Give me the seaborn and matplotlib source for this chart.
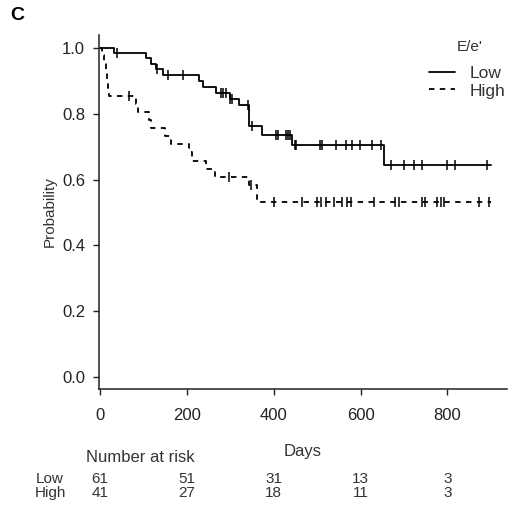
import numpy as np
import pandas as pd
import seaborn as sns
import matplotlib
matplotlib.use("Agg")
import matplotlib.pyplot as plt

# Curvas Kaplan-Meier (tiempo en dias, probabilidad)
low_days = [0, 33, 106, 118, 130, 145, 228, 238, 267, 300, 320, 343, 374, 443, 655, 900]
low_prob = [1.0, 0.984, 0.967, 0.951, 0.934, 0.916, 0.898, 0.881, 0.862, 0.844, 0.827,
            0.761, 0.736, 0.706, 0.645, 0.645]
low_censor = [40, 132, 156, 192, 278, 284, 290, 300, 305, 340, 351, 405, 410, 428, 432,
              437, 448, 452, 506, 512, 543, 566, 581, 598, 627, 646, 669, 700, 723, 742,
              799, 818, 891]

high_days = [0, 5, 9, 13, 16, 19, 22, 84, 88, 113, 118, 150, 163, 205, 212, 245, 265,
             343, 362, 900]
high_prob = [1.0, 0.976, 0.951, 0.927, 0.902, 0.878, 0.853, 0.829, 0.805, 0.780, 0.756,
             0.731, 0.707, 0.682, 0.657, 0.633, 0.608, 0.583, 0.532, 0.532]
high_censor = [67, 297, 347, 400, 466, 500, 508, 520, 538, 558, 569, 577, 631, 680, 688,
               742, 749, 776, 784, 791, 872, 895]

# Tabla de numero en riesgo
risk_days = [0, 200, 400, 600, 800]
risk_low = [61, 51, 31, 13, 3]
risk_high = [41, 27, 18, 11, 3]

sns.set_style("ticks")
plt.rcParams['font.family'] = ['Liberation Sans', 'DejaVu Sans']
plt.rcParams['text.color'] = '#333333'
plt.rcParams['axes.labelcolor'] = '#333333'
plt.rcParams['xtick.color'] = '#222222'
plt.rcParams['ytick.color'] = '#222222'

fig = plt.figure(figsize=(5.2, 5.09), dpi=100)
ax = fig.add_axes([99 / 520, 1 - 389 / 509, 408 / 520, 354 / 509])


def valor_en(dias, probs, t):
    """Probabilidad de la curva escalonada en el tiempo t."""
    idx = np.searchsorted(dias, t, side='right') - 1
    return np.asarray(probs)[idx]


df_low = pd.DataFrame({'dias': low_days, 'prob': low_prob})
df_high = pd.DataFrame({'dias': high_days, 'prob': high_prob})

sns.lineplot(data=df_low, x='dias', y='prob', drawstyle='steps-post', color='black',
             linewidth=1.3, label='Low', ax=ax, estimator=None)
sns.lineplot(data=df_high, x='dias', y='prob', drawstyle='steps-post', color='black',
             linewidth=1.3, linestyle=(0, (3, 3)), label='High', ax=ax, estimator=None)

sns.scatterplot(x=low_censor, y=valor_en(low_days, low_prob, low_censor), marker='|',
                s=60, color='black', linewidth=1.1, ax=ax, legend=False)
sns.scatterplot(x=high_censor, y=valor_en(high_days, high_prob, high_censor), marker='|',
                s=60, color='black', linewidth=1.1, ax=ax, legend=False)

ax.set_xlim(-2, 937)
ax.set_ylim(-0.035, 1.038)
ax.set_xticks(risk_days)
ax.set_yticks([0.0, 0.2, 0.4, 0.6, 0.8, 1.0])
ax.set_yticklabels(['0.0', '0.2', '0.4', '0.6', '0.8', '1.0'])
ax.tick_params(direction='out', length=4, width=1, labelsize=12)
ax.tick_params(axis='x', pad=10)
ax.tick_params(axis='y', pad=6)
for lado in ['left', 'bottom']:
    ax.spines[lado].set_linewidth(1.1)
    ax.spines[lado].set_color('#222222')
sns.despine(ax=ax)

ax.set_xlabel('Days', fontsize=12, labelpad=15)
ax.set_ylabel('Probability', fontsize=11, labelpad=4)

# Leyenda sin titulo; el titulo va aparte para dejar el hueco del original
ax.legend(loc='upper right', frameon=False, fontsize=12.5, handlelength=1.5,
          handletextpad=0.8, labelspacing=0.15, borderaxespad=0.0,
          bbox_to_anchor=(1.012, 0.933))
fig.text(470 / 520, 1 - 47 / 509, "E/e'", fontsize=11, ha='center', va='center')

# Etiqueta del panel
fig.text(10 / 520, 1 - 15 / 509, 'C', fontsize=14, fontweight='bold', color='black',
         va='center', ha='left')

# Numero en riesgo
fig.text(86 / 520, 1 - 458 / 509, 'Number at risk', fontsize=12, va='center', ha='left')
fig.text(36 / 520, 1 - 479 / 509, 'Low', fontsize=11, va='center', ha='left')
fig.text(35 / 520, 1 - 493 / 509, 'High', fontsize=11, va='center', ha='left')
trans = ax.get_xaxis_transform()
for d, n_low, n_high in zip(risk_days, risk_low, risk_high):
    ax.text(d, -0.254, str(n_low), transform=trans, fontsize=11, ha='center', va='center',
            clip_on=False)
    ax.text(d, -0.294, str(n_high), transform=trans, fontsize=11, ha='center', va='center',
            clip_on=False)

fig.savefig('out.png', dpi=100, facecolor='white')
